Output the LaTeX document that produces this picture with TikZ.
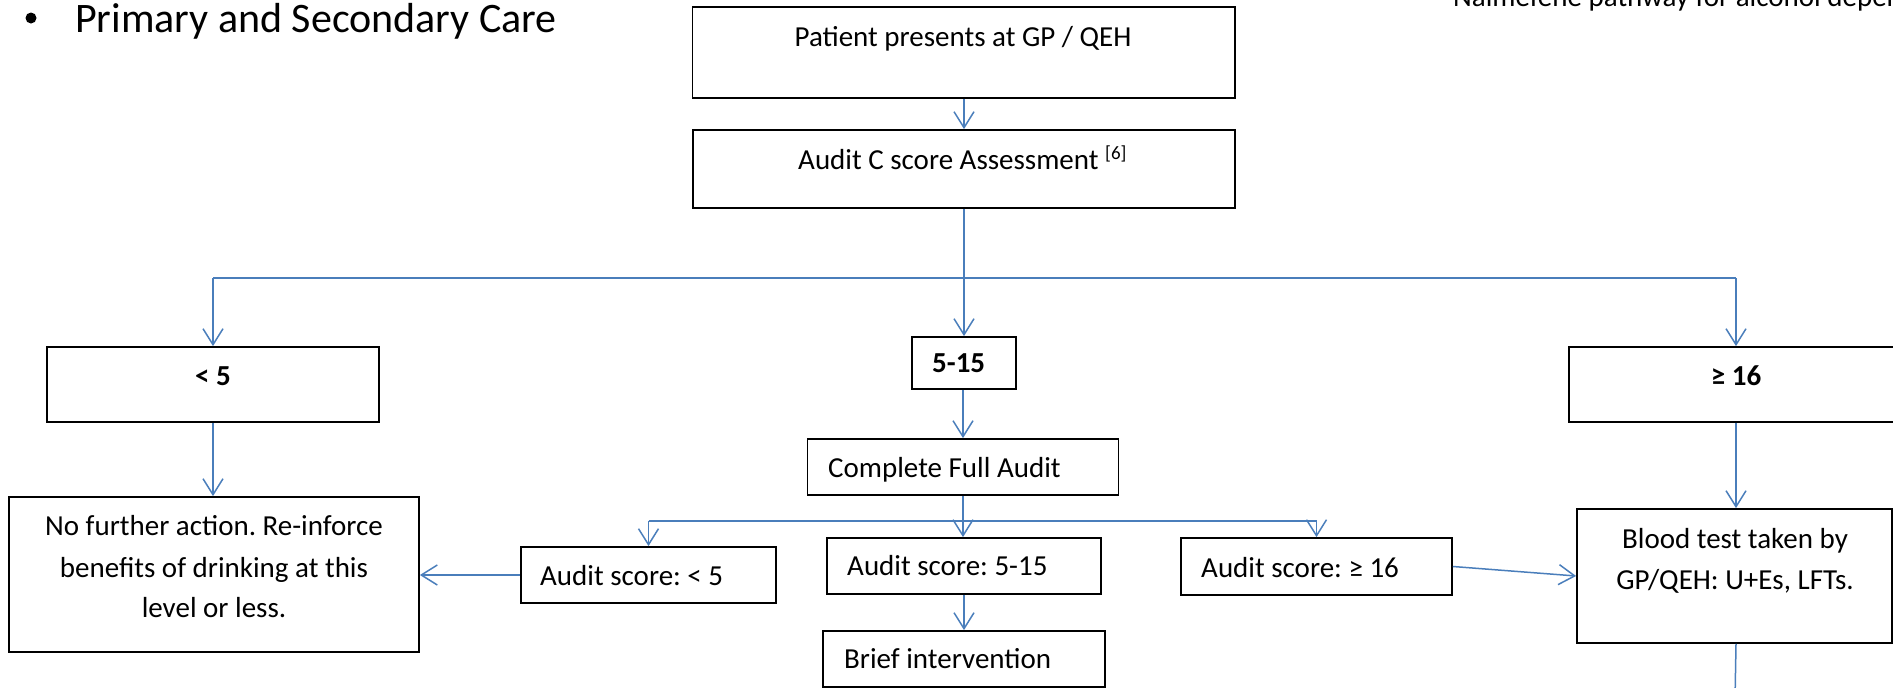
\documentclass[tikz,border=0pt]{standalone}
\usepackage{fontspec}
\setmainfont{Carlito}
\usetikzlibrary{arrows.meta}
\definecolor{connblue}{HTML}{4A7EBB}
\frenchspacing
\begin{document}
\begin{tikzpicture}[x=1pt,y=-1pt,
  boxst/.style={draw=black, line width=1.8pt, rectangle, inner sep=0pt},
  txt/.style={font=\fontsize{29}{35}\selectfont, inner sep=0pt, anchor=base},
  txtl/.style={txt, anchor=base west},
  btxt/.style={txt, font=\fontsize{29}{35}\selectfont\bfseries},
  btxtl/.style={btxt, anchor=base west},
  connln/.style={draw=connblue, line width=1.5pt},
  arr/.style={connln, -{Straight Barb[length=16pt,width=20pt]}}]
\useasboundingbox (0,0) rectangle (1893,688);
\clip (0,0) rectangle (1893,688);

% headings
\node[circle, fill=black, inner sep=0pt, minimum size=11pt] (bullet) at (31,18) {};
\node[txtl, font=\fontsize{42}{50}\selectfont] (heading) at (75,32) {Primary and Secondary Care};
\node[txtl] (pathway) at (1453,6) {Nalmefene pathway for alcohol dependence};

% boxes
\node[boxst, minimum width=542.5pt, minimum height=91pt] (top) at (963.75,52.5) {};
\node[boxst, minimum width=542pt, minimum height=78pt] (auditc) at (964,169) {};
\node[boxst, minimum width=332pt, minimum height=75pt] (lt5) at (213,384.5) {};
\node[boxst, minimum width=104pt, minimum height=52pt] (mid) at (964,363) {};
\node[boxst, minimum width=334pt, minimum height=75pt] (ge16) at (1736,384.5) {};
\node[boxst, minimum width=311pt, minimum height=56pt] (full) at (963,467) {};
\node[boxst, minimum width=255pt, minimum height=56pt] (a5) at (648.5,575) {};
\node[boxst, minimum width=274pt, minimum height=56pt] (a515) at (964,566) {};
\node[boxst, minimum width=271pt, minimum height=57pt] (a16) at (1316.5,566.5) {};
\node[boxst, minimum width=282pt, minimum height=56pt] (brief) at (964,659) {};
\node[boxst, minimum width=410pt, minimum height=155pt] (nfa) at (214,574.5) {};
\node[boxst, minimum width=315pt, minimum height=134pt] (blood) at (1734.5,576) {};

% texts
\node[txt] (topT) at (963,46) {Patient presents at GP / QEH};
\node[txtl] (auditcT) at (798,169) {Audit C score Assessment \raisebox{10pt}{\fontsize{19}{19}\selectfont[6]}};
\node[btxt] (lt5T) at (213,385) {< 5};
\node[btxtl] (midT) at (932,372) {5-15};
\node[btxt] (ge16T) at (1736,385) {≥ 16};
\node[txtl] (fullT) at (828,477) {Complete Full Audit};
\node[txtl] (a5T) at (540,585) {Audit score: < 5};
\node[txtl] (a515T) at (847,575) {Audit score: 5-15};
\node[txtl] (a16T) at (1201,577) {Audit score: ≥ 16};
\node[txtl] (briefT) at (844,668) {Brief intervention};
\node[txt] (nfaA) at (214,535) {No further action. Re-inforce};
\node[txt] (nfaB) at (214,577) {benefits of drinking at this};
\node[txt] (nfaC) at (214,617) {level or less.};
\node[txt] (bloodA) at (1735,548) {Blood test taken by};
\node[txt] (bloodB) at (1735,589) {GP/QEH: U+Es, LFTs.};

% junction coordinates
\coordinate (j1) at (964,278);
\coordinate (j1l) at (213,278);
\coordinate (j1r) at (1736,278);
\coordinate (j2) at (963,521);
\coordinate (j2l) at (648.5,521);
\coordinate (j2r) at (1316.5,521);
\coordinate (bloodEnd) at (1735,700);

% connectors
\draw[arr] (top.south -| auditc.north) -- (auditc.north);
\draw[connln] (auditc.south) -- (j1);
\draw[connln] (j1l) -- (j1r);
\draw[arr] (j1l) -- (lt5.north);
\draw[arr] (j1) -- (mid.north);
\draw[arr] (j1r) -- (ge16.north);
\draw[arr] (lt5.south) -- (lt5.south |- nfa.north);
\draw[arr] (ge16.south) -- (ge16.south |- blood.north);
\draw[arr] (mid.south -| full.north) -- (full.north);
\draw[connln] (full.south) -- (j2);
\draw[connln] (j2l) -- (j2r);
\draw[arr] (j2l) -- (a5.north);
\draw[arr] (j2) -- (j2 |- a515.north);
\draw[arr] (j2r) -- (a16.north);
\draw[arr] (a5.west) -- (a5.west -| nfa.east);
\draw[arr] (a515.south) -- (brief.north);
\draw[arr] (a16.east) -- (blood.west);
\draw[connln] (blood.south -| ge16.south) -- (bloodEnd);
\end{tikzpicture}
\end{document}
